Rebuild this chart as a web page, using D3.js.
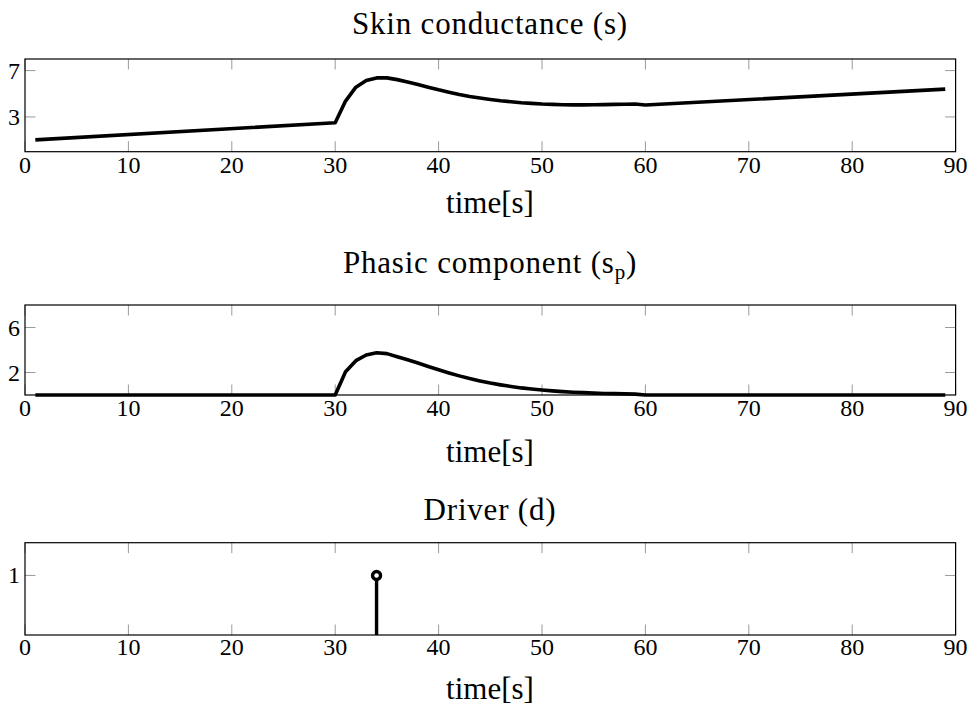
<!DOCTYPE html>
<html>
<head>
<meta charset="utf-8">
<script src="https://cdn.jsdelivr.net/npm/d3@7"></script>
<style>
  body { margin: 0; background: #fff; }
  text { font-family: "Liberation Serif", "DejaVu Serif", serif; fill: #000; }
</style>
</head>
<body>
<svg id="chart"></svg>
<script>
// shared x ticks (seconds)
const timeTicks = [0, 10, 20, 30, 40, 50, 60, 70, 80, 90];

// skin conductance s
const skinTime = [1, 30, 31, 32, 33, 34, 35, 36, 37, 38, 39, 40, 41, 42, 43, 44, 45, 46, 47, 48, 49, 50,
  51, 52, 53, 54, 55, 56, 57, 58, 59, 60, 89];
const skinValue = [1.02, 2.5, 4.37, 5.57, 6.14, 6.37, 6.37, 6.22, 6.02, 5.8, 5.57, 5.34, 5.14, 4.94, 4.77,
  4.63, 4.51, 4.4, 4.31, 4.23, 4.17, 4.11, 4.08, 4.05, 4.04, 4.04, 4.05, 4.06, 4.08, 4.1, 4.11, 4.03, 5.4];
const skinTicks = [3, 7];

// phasic component s_p
const phasicTime = [1, 30, 31, 32, 33, 34, 35, 36, 37, 38, 39, 40, 41, 42, 43, 44, 45, 46, 47, 48, 49, 50,
  51, 52, 53, 54, 55, 56, 57, 58, 59, 60, 89];
const phasicValue = [0, 0, 2.06, 3.05, 3.56, 3.75, 3.68, 3.4, 3.13, 2.84, 2.54, 2.24, 1.96, 1.7, 1.46,
  1.25, 1.06, 0.9, 0.76, 0.63, 0.53, 0.44, 0.37, 0.3, 0.25, 0.21, 0.17, 0.14, 0.12, 0.1, 0.08, 0, 0];
const phasicTicks = [2, 6];

// driver d (impulse)
const driverTime = [34];
const driverValue = [1];
const driverTicks = [1];

const W = 976, H = 716;
const svg = d3.select("#chart").attr("width", W).attr("height", H);

const x = d3.scaleLinear().domain([0, 90]).range([25, 955.6]);

const panels = [
  { title: "Skin conductance (s)", top: 59, bottom: 151.7, ymax: 8, yticks: skinTicks,
    titleY: 34, tickY: 173, labelY: 213, t: skinTime, v: skinValue, kind: "line" },
  { title: "Phasic component (s", sub: "p", top: 305, bottom: 395, ymax: 8, yticks: phasicTicks,
    titleY: 273, tickY: 416, labelY: 462, t: phasicTime, v: phasicValue, kind: "line" },
  { title: "Driver (d)", top: 542.7, bottom: 635, ymax: 1.55, yticks: driverTicks,
    titleY: 520, tickY: 655, labelY: 699, t: driverTime, v: driverValue, kind: "stem" }
];

panels.forEach(p => {
  const y = d3.scaleLinear().domain([0, p.ymax]).range([p.bottom, p.top]);
  const g = svg.append("g");

  // inward ticks on all four sides
  const tickLen = 10.5;
  const tickCol = "#9a9a9a";
  g.selectAll(".xt").data(timeTicks).enter().append("line")
    .attr("x1", d => x(d)).attr("x2", d => x(d))
    .attr("y1", p.bottom).attr("y2", p.bottom - tickLen)
    .attr("stroke", tickCol).attr("stroke-width", 1);
  g.selectAll(".xtt").data(timeTicks).enter().append("line")
    .attr("x1", d => x(d)).attr("x2", d => x(d))
    .attr("y1", p.top).attr("y2", p.top + tickLen)
    .attr("stroke", tickCol).attr("stroke-width", 1);
  g.selectAll(".yt").data(p.yticks).enter().append("line")
    .attr("x1", x.range()[0]).attr("x2", x.range()[0] + tickLen)
    .attr("y1", d => y(d)).attr("y2", d => y(d))
    .attr("stroke", tickCol).attr("stroke-width", 1);
  g.selectAll(".ytr").data(p.yticks).enter().append("line")
    .attr("x1", x.range()[1]).attr("x2", x.range()[1] - tickLen)
    .attr("y1", d => y(d)).attr("y2", d => y(d))
    .attr("stroke", tickCol).attr("stroke-width", 1);

  // frame
  g.append("rect")
    .attr("x", x.range()[0]).attr("y", p.top)
    .attr("width", x.range()[1] - x.range()[0]).attr("height", p.bottom - p.top)
    .attr("fill", "none").attr("stroke", "#000").attr("stroke-width", 1.2);

  // tick labels
  g.selectAll(".xl").data(timeTicks).enter().append("text")
    .attr("x", d => x(d)).attr("y", p.tickY)
    .attr("text-anchor", "middle").attr("font-size", 24)
    .text(d => d);
  g.selectAll(".yl").data(p.yticks).enter().append("text")
    .attr("x", 20).attr("y", d => y(d) + 8)
    .attr("text-anchor", "end").attr("font-size", 24)
    .text(d => d);

  // title
  const title = g.append("text")
    .attr("x", 490).attr("y", p.titleY)
    .attr("text-anchor", "middle").attr("font-size", 31)
    .attr("letter-spacing", 0.8)
    .text(p.title);
  if (p.sub) {
    title.append("tspan").attr("font-size", 21).attr("dy", 6).text(p.sub);
    title.append("tspan").attr("dy", -6).text(")");
  }

  // axis label
  g.append("text")
    .attr("x", 490).attr("y", p.labelY)
    .attr("text-anchor", "middle").attr("font-size", 31)
    .text("time[s]");

  const pts = p.t.map((t, i) => [t, p.v[i]]);
  if (p.kind === "line") {
    const line = d3.line().x(d => x(d[0])).y(d => y(d[1]));
    g.append("path").datum(pts)
      .attr("d", line)
      .attr("fill", "none").attr("stroke", "#000")
      .attr("stroke-width", 3.6).attr("stroke-linejoin", "round");
  } else {
    g.selectAll(".stem").data(pts).enter().append("line")
      .attr("x1", d => x(d[0])).attr("x2", d => x(d[0]))
      .attr("y1", y(0)).attr("y2", d => y(d[1]))
      .attr("stroke", "#000").attr("stroke-width", 3.4);
    g.selectAll(".mark").data(pts).enter().append("circle")
      .attr("cx", d => x(d[0])).attr("cy", d => y(d[1]))
      .attr("r", 4)
      .attr("fill", "#fff").attr("stroke", "#000").attr("stroke-width", 3.4);
  }
});
</script>
</body>
</html>
